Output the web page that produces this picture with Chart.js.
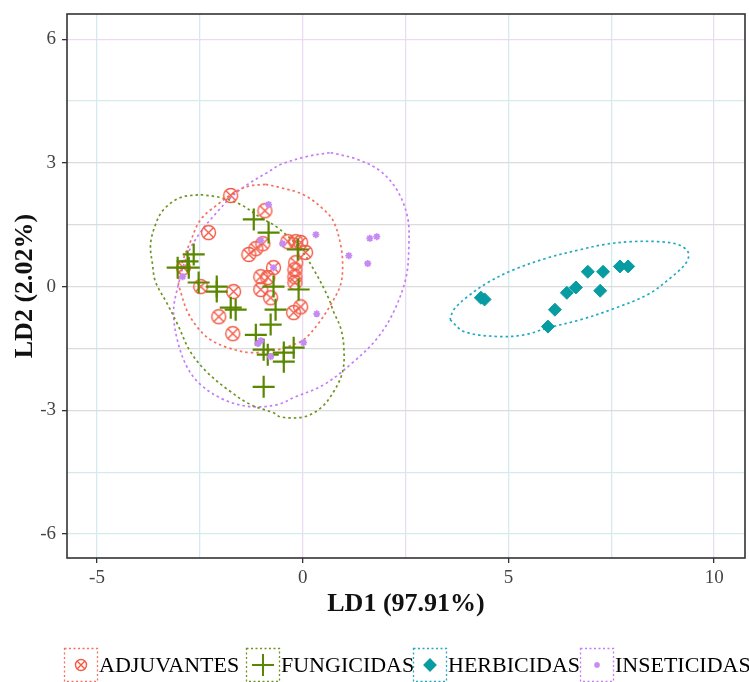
<!DOCTYPE html>
<html>
<head>
<meta charset="utf-8">
<script src="https://cdn.jsdelivr.net/npm/chart.js@4.4.1/dist/chart.umd.min.js"></script>
<style>
  html, body { margin: 0; padding: 0; background: #fff; }
  #wrap { width: 749px; height: 682px; }
</style>
</head>
<body>
<div id="wrap"><canvas id="ldaChart" width="749" height="682"></canvas></div>
<script>
// groups and colours
const groups = ["ADJUVANTES", "FUNGICIDAS", "HERBICIDAS", "INSETICIDAS"];
const pointColors = ["#f25a46", "#5a8700", "#079ca2", "#c68af4"];
const ellipseColors = ["#f7705f", "#6d9420", "#22aac4", "#c47cf8"];

// axis ticks
const xMajor = [-5, 0, 5, 10];
const xMinor = [-2.5, 2.5, 7.5];
const yMajor = [-6, -3, 0, 3, 6];
const yMinor = [-4.5, -1.5, 1.5, 4.5];

// scores (LD1, LD2)
const adjX = [-1.75, -0.92, -2.29, -1.31, -1.14, -0.97, -0.36, -0.17, -0.05, 0.07, -0.17, -0.19, -0.19,
  -0.19, -0.71, -1.02, -0.85, -1.02, -0.78, -1.68, -2.48, -2.90, -2.04, -1.70, -0.22, -0.05];
const adjY = [2.21, 1.84, 1.31, 0.78, 0.92, 1.04, 1.09, 1.09, 1.07, 0.83, 0.58, 0.41, 0.24,
  0.10, 0.46, 0.24, 0.22, -0.07, -0.27, -0.12, 0.00, 0.46, -0.73, -1.14, -0.63, -0.49];

const funX = [-1.19, -0.83, -2.65, -2.80, -3.04, -2.77, -2.53, -2.09, -2.09, -1.75, -1.63, -0.71,
  -0.10, -0.66, -0.78, -1.14, -0.95, -0.85, -0.46, -0.46, -0.22, -0.12, -0.95];
const funY = [1.63, 1.31, 0.78, 0.61, 0.46, 0.46, 0.10, 0.00, -0.12, -0.51, -0.56, 0.00,
  -0.07, -0.56, -0.92, -1.17, -1.53, -1.65, -1.60, -1.82, -1.48, 0.90, -2.43];

const herX = [4.33, 4.42, 5.96, 6.13, 6.42, 6.64, 6.93, 7.30, 7.23, 7.71, 7.91];
const herY = [-0.27, -0.31, -0.97, -0.56, -0.15, -0.02, 0.36, 0.36, -0.10, 0.49, 0.49];

const insX = [-0.83, 0.32, 1.63, 1.80, 1.12, 1.58, 0.34, 0.02, -1.02, -0.78, -0.71, -2.92, -1.02, -0.49, -1.09];
const insY = [1.99, 1.26, 1.17, 1.21, 0.75, 0.56, -0.66, -1.36, -1.31, -1.70, 0.46, 0.24, 1.12, 1.04, -1.38];

// ellipse outlines
const adjEllX = [-0.90, -0.54, 0.02, 0.51, 0.75, 0.92, 0.97, 0.92, 0.68, 0.36, 0.02, -0.29, -0.61, -1.27,
  -1.82, -2.24, -2.55, -2.80, -2.97, -3.02, -2.92, -2.73, -2.48, -2.07, -1.75, -1.34];
const adjEllY = [2.48, 2.40, 2.23, 1.87, 1.58, 1.02, 0.53, 0.05, -0.44, -0.92, -1.29, -1.43, -1.53, -1.60,
  -1.48, -1.29, -1.00, -0.61, -0.12, 0.12, 0.61, 1.09, 1.63, 1.99, 2.23, 2.43];

const funEllX = [-2.48, -2.00, -1.51, -1.02, -0.61, -0.05, 0.27, 0.61, 0.75, 0.92, 1.00, 0.97, 0.75, 0.44,
  0.02, -0.54, -0.71, -1.27, -1.75, -2.31, -2.73, -3.04, -3.28, -3.58, -3.65, -3.70, -3.58, -3.38, -2.97];
const funEllY = [2.23, 2.16, 1.99, 1.67, 1.43, 0.90, 0.41, -0.24, -0.61, -1.00, -1.48, -2.06, -2.55, -2.94,
  -3.16, -3.16, -3.06, -2.86, -2.55, -2.09, -1.58, -0.92, -0.44, 0.12, 0.53, 1.02, 1.50, 1.87, 2.16];

const herEllX = [3.58, 3.92, 4.74, 5.38, 5.96, 6.76, 7.57, 8.39, 8.95, 9.32, 9.37, 9.12, 8.64, 7.98,
  7.32, 6.76, 5.96, 5.13, 4.50, 4.01, 3.67];
const herEllY = [-0.80, -1.09, -1.21, -1.17, -1.00, -0.80, -0.53, -0.19, 0.22, 0.58, 0.83, 1.02, 1.09, 1.09,
  1.02, 0.90, 0.70, 0.41, 0.10, -0.24, -0.56];

const insEllX = [0.68, 1.34, 1.90, 2.31, 2.55, 2.58, 2.51, 2.21, 1.82, 1.24, 0.51, -0.22, -0.61, -1.27,
  -1.92, -2.48, -2.80, -3.04, -3.14, -3.04, -2.80, -2.48, -2.07, -1.75, -1.34, -0.85, -0.54, 0.12];
const insEllY = [3.25, 3.08, 2.79, 2.31, 1.67, 1.02, 0.22, -0.61, -1.24, -1.82, -2.38, -2.69, -2.86, -2.91,
  -2.74, -2.38, -1.97, -1.33, -0.61, -0.02, 0.78, 1.33, 1.82, 2.16, 2.48, 2.77, 2.96, 3.16];

function pts(xs, ys){ return xs.map((x, i) => ({x: x, y: ys[i]})); }
function loop(xs, ys){ const p = pts(xs, ys); p.push(p[0]); return p; }

// circle with an x inside (ggplot shape 13)
function circleX(size, color){
  const c = document.createElement("canvas");
  c.width = size; c.height = size;
  const g = c.getContext("2d");
  const r = size / 2 - 1.5;
  g.strokeStyle = color;
  g.lineWidth = 1.4;
  g.beginPath(); g.arc(size/2, size/2, r, 0, Math.PI*2); g.stroke();
  const d = r * 0.72;
  g.beginPath();
  g.moveTo(size/2 - d, size/2 - d); g.lineTo(size/2 + d, size/2 + d);
  g.moveTo(size/2 + d, size/2 - d); g.lineTo(size/2 - d, size/2 + d);
  g.stroke();
  return c;
}
const adjMark = circleX(17, pointColors[0]);
const adjLegendMark = circleX(14, pointColors[0]);

function ellipseSet(data, color){
  return {
    type: "line", data: data, showLine: true, fill: false, tension: 0.35,
    borderColor: color, borderWidth: 1.7, borderDash: [2.5, 3], pointRadius: 0,
    order: 10
  };
}

const isX = v => xMajor.includes(v);
const isY = v => yMajor.includes(v);
const purpleX = [0, 2.5, 10];

// frame + legend
const extras = {
  id: "extras",
  afterDraw(chart){
    const ctx = chart.ctx, a = chart.chartArea;
    ctx.save();
    ctx.strokeStyle = "#333";
    ctx.lineWidth = 1.6;
    ctx.strokeRect(a.left, a.top, a.right - a.left, a.bottom - a.top);

    const boxX = [64, 246, 413, 580];
    const by = 648, bs = 33;
    ctx.font = "22px 'Liberation Serif', 'Times New Roman', serif";
    ctx.textBaseline = "middle";
    groups.forEach((name, i) => {
      const x = boxX[i];
      ctx.setLineDash([2, 2.5]);
      ctx.lineWidth = 1.3;
      ctx.strokeStyle = ellipseColors[i];
      ctx.strokeRect(x + 0.5, by + 0.5, bs, bs);
      ctx.setLineDash([]);
      const cx = x + bs/2 + 0.5, cy = by + bs/2 + 0.5;
      ctx.fillStyle = pointColors[i];
      ctx.strokeStyle = pointColors[i];
      if(i === 0){
        ctx.drawImage(adjLegendMark, cx - 7, cy - 7);
      } else if(i === 1){
        ctx.lineWidth = 2;
        Chart.helpers.drawPoint(ctx, {pointStyle: "cross", radius: 11, borderWidth: 2}, cx, cy);
      } else if(i === 2){
        Chart.helpers.drawPoint(ctx, {pointStyle: "rectRot", radius: 6, borderWidth: 1}, cx, cy);
        ctx.fill();
      } else {
        ctx.lineWidth = 1.6;
        Chart.helpers.drawPoint(ctx, {pointStyle: "star", radius: 3, borderWidth: 1.6}, cx, cy);
      }
      ctx.fillStyle = "#000";
      ctx.fillText(name, x + bs + 2, cy + 1);
    });
    ctx.restore();
  }
};

new Chart(document.getElementById("ldaChart"), {
  type: "scatter",
  data: {
    datasets: [
      { label: groups[0], data: pts(adjX, adjY), pointStyle: adjMark, order: 4 },
      { label: groups[1], data: pts(funX, funY), pointStyle: "cross", pointRadius: 11,
        borderColor: pointColors[1], borderWidth: 2.2, order: 3 },
      { label: groups[2], data: pts(herX, herY), pointStyle: "rectRot", pointRadius: 6.5,
        backgroundColor: pointColors[2], borderColor: pointColors[2], borderWidth: 1, order: 2 },
      { label: groups[3], data: pts(insX, insY), pointStyle: "star", pointRadius: 3.5,
        borderColor: pointColors[3], borderWidth: 1.8, order: 1 },
      ellipseSet(loop(adjEllX, adjEllY), ellipseColors[0]),
      ellipseSet(loop(funEllX, funEllY), ellipseColors[1]),
      ellipseSet(loop(herEllX, herEllY), ellipseColors[2]),
      ellipseSet(loop(insEllX, insEllY), ellipseColors[3])
    ]
  },
  options: {
    responsive: false,
    animation: false,
    devicePixelRatio: 1,
    layout: { autoPadding: false, padding: { top: 14, right: 4, left: 0, bottom: 54 } },
    plugins: { legend: { display: false }, tooltip: { enabled: false } },
    scales: {
      x: {
        type: "linear", min: -5.73, max: 10.75,
        afterBuildTicks: s => { s.ticks = xMajor.concat(xMinor).sort((a, b) => a - b).map(v => ({value: v})); },
        afterFit: s => { s.height = 70; s.paddingLeft = 0; s.paddingRight = 0; },
        border: { display: false },
        grid: {
          color: c => purpleX.includes(c.tick.value) ? "#e9dcf2" : "#d6eaee",
          lineWidth: 1.3,
          tickLength: 5,
          tickWidth: 1.3,
          tickColor: c => isX(c.tick.value) ? "#333" : "rgba(0,0,0,0)"
        },
        ticks: {
          padding: 4, color: "#444", maxRotation: 0, autoSkip: false,
          font: { family: "'Liberation Serif', 'Times New Roman', serif", size: 19 },
          callback: v => isX(v) ? String(v) : ""
        },
        title: {
          display: true, text: "LD1 (97.91%)", color: "#111",
          font: { family: "'Liberation Serif', 'Times New Roman', serif", size: 26, weight: "bold" },
          padding: { top: 0, bottom: 8 }
        }
      },
      y: {
        type: "linear", min: -6.58, max: 6.61,
        afterBuildTicks: s => { s.ticks = yMajor.concat(yMinor).sort((a, b) => a - b).map(v => ({value: v})); },
        afterFit: s => { s.width = 67; s.paddingTop = 0; s.paddingBottom = 0; },
        border: { display: false },
        grid: {
          color: c => c.tick.value === 6 ? "#ecd9f0" : (c.tick.value <= -4.5 || c.tick.value === 4.5 ? "#d6eaee" : "#dcdcdc"),
          lineWidth: 1.3,
          tickLength: 5,
          tickWidth: 1.3,
          tickColor: c => isY(c.tick.value) ? "#333" : "rgba(0,0,0,0)"
        },
        ticks: {
          padding: 6, color: "#444", autoSkip: false,
          font: { family: "'Liberation Serif', 'Times New Roman', serif", size: 19 },
          callback: v => isY(v) ? String(v) : ""
        },
        title: {
          display: true, text: "LD2 (2.02%)", color: "#111",
          font: { family: "'Liberation Serif', 'Times New Roman', serif", size: 26, weight: "bold" },
          padding: { top: 10, bottom: 0 }
        }
      }
    }
  },
  plugins: [extras]
});
</script>
</body>
</html>
